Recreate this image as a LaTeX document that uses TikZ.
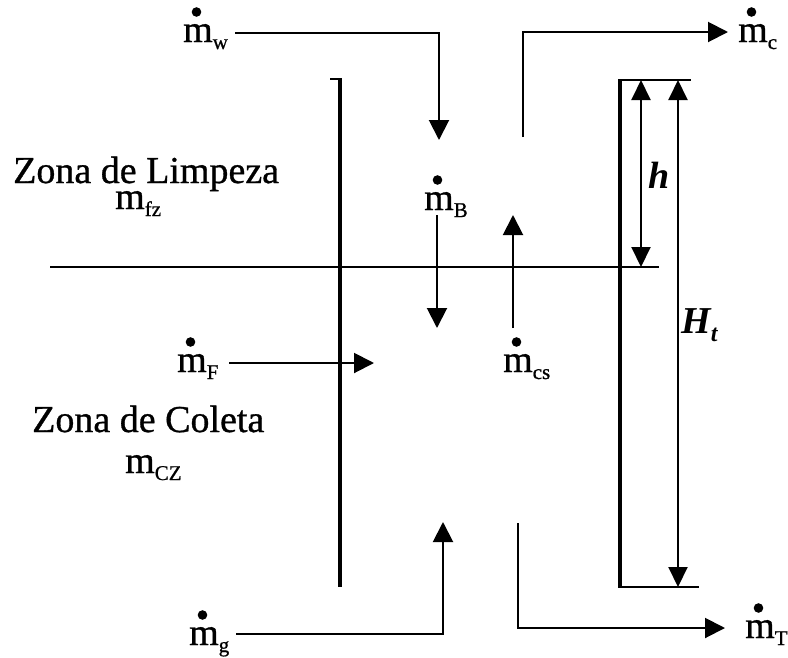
\documentclass[tikz,border=0pt]{standalone}
\usepackage{fontspec}
\setmainfont{Liberation Serif}
\newfontfamily\heavyserif[FakeBold=0.8]{Liberation Serif}
\usetikzlibrary{arrows.meta,calc}
\newcommand\bigf{\heavyserif\fontsize{38}{40}\selectfont}
\newcommand\subf[1]{\raisebox{-7pt}{\fontsize{21}{21}\selectfont #1}}
\newcommand\mdotat[1]{\fill ([xshift=13.5pt,yshift=30pt]#1.base west) circle (4.8pt);}
\begin{document}
\begin{tikzpicture}[x=1pt,y=-1pt,
  lab/.style={inner sep=0pt, anchor=base west, font=\bigf},
  flow/.style={line width=2pt, -{Triangle[width=20pt,length=20pt]}},
  dimarrow/.style={line width=2pt, {Triangle[width=19pt,length=20pt]}-{Triangle[width=19pt,length=20pt]}},
  wall/.style={line width=4pt},
  thinline/.style={line width=2pt},
  sideline/.style={line width=3.5pt}]
\useasboundingbox (0,0) rectangle (788,657);

% labels
\node[lab] (zl) at (13,183) {Zona de Limpeza};
\node[lab] (mfz) at (115,209) {m\subf{fz}};
\node[lab] (zc) at (32,432) {Zona de Coleta};
\node[lab] (mcz) at (125,473) {m\subf{CZ}};

\node[lab] (mw) at (183,42) {m\subf{w}};
\node[lab] (mc) at (738,42) {m\subf{c}};
\node[lab] (mB) at (424,210) {m\subf{B}};
\node[lab] (mcs) at (503,372) {m\subf{cs}};
\node[lab] (mF) at (177,372) {m\subf{F}};
\node[lab] (mg) at (189,645) {m\subf{g}};
\node[lab] (mT) at (745,638) {m\subf{T}};
\foreach \n in {mw,mc,mB,mcs,mF,mg,mT} {\mdotat{\n}}

\node[lab, font=\setmainfont{Liberation Serif}\fontsize{38}{40}\selectfont\bfseries\itshape] (h) at (648,188) {h};
\node[lab, font=\fontsize{38}{40}\selectfont\bfseries\itshape] (Ht) at (681,333) {H\raisebox{-8pt}{\fontsize{24}{24}\selectfont t}};

% walls and dividers
\coordinate (wt) at (340,79);
\coordinate (wb) at (340,587);
\coordinate (wtick) at (330,79);
\draw[wall] (wt) -- (wb);
\draw[thinline] (wtick) -- ([xshift=2pt]wt);

\coordinate (hl) at (50,267);
\coordinate (hr) at (659,267);
\draw[thinline] (hl) -- (hr);

\coordinate (rt) at (620,80);
\coordinate (rb) at (620,587);
\coordinate (rtr) at (691,80);
\coordinate (rbr) at (699,587);
\draw[sideline] ([yshift=1pt]rt) -- ([yshift=-1pt]rb);
\draw[thinline] (rt) -- (rtr);
\draw[thinline] (rb) -- (rbr);

% dimension arrows
\coordinate (h0) at (641,80);
\coordinate (h1) at (641,267);
\draw[dimarrow] (h0) -- (h1);
\coordinate (H0) at (678,80);
\coordinate (H1) at (678,587);
\draw[dimarrow] (H0) -- (H1);

% flows
\coordinate (w0) at (235,33);
\coordinate (w2) at (439,140);
\draw[flow] (w0) -| (w2);

\coordinate (c0) at (523,137);
\coordinate (c1) at (728,32);
\draw[flow] (c0) |- (c1);

\coordinate (b0) at (437,215);
\coordinate (b1) at (437,328);
\draw[flow] (b0) -- (b1);

\coordinate (s0) at (513,328);
\coordinate (s1) at (513,215);
\draw[flow] (s0) -- (s1);

\coordinate (f0) at (229,363);
\coordinate (f1) at (374,363);
\draw[flow] (f0) -- (f1);

\coordinate (g0) at (236,634);
\coordinate (g1) at (443,522);
\draw[flow] (g0) -| (g1);

\coordinate (t0) at (518,523);
\coordinate (t1) at (725,628);
\draw[flow] (t0) |- (t1);
\end{tikzpicture}
\end{document}
